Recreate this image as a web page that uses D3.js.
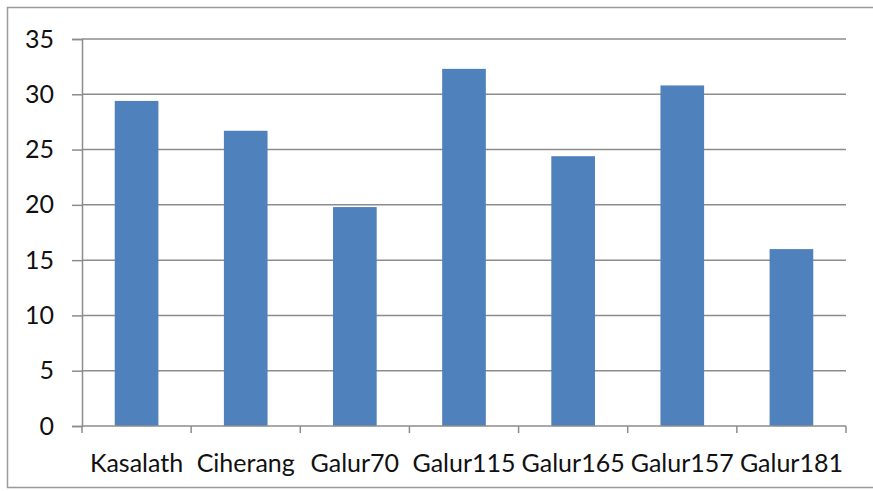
<!DOCTYPE html>
<html><head><meta charset="utf-8">
<script src="https://cdn.jsdelivr.net/npm/d3@7"></script>
<style>html,body{margin:0;padding:0;background:#fff;} svg{display:block;}</style>
</head><body>
<script>
const categories = ["Kasalath","Ciherang","Galur70","Galur115","Galur165","Galur157","Galur181"];
const values = [29.4, 26.7, 19.8, 32.3, 24.4, 30.8, 16.0];
const yTicks = [0,5,10,15,20,25,30,35];

(function(){
const W = 873, H = 491;
const svg = d3.select("body").append("svg").attr("width", W).attr("height", H);
svg.append("rect").attr("x",7.5).attr("y",7.5).attr("width",W).attr("height",480)
  .attr("fill","#fff").attr("stroke","#9a9a9a").attr("stroke-width",1.5);

const pLeft = 82, pRight = 846, pTop = 39, pBottom = 426;
const x = d3.scaleBand().domain(categories).range([pLeft, pRight]).paddingInner(0.6).paddingOuter(0.3);
const xb = d3.scaleBand().domain(categories).range([pLeft, pRight]);
const y = d3.scaleLinear().domain([0,35]).range([pBottom, pTop]);

svg.append("g").selectAll("line").data(yTicks.filter(d=>d>0)).join("line")
  .attr("x1",pLeft).attr("x2",pRight).attr("y1",d=>y(d)).attr("y2",d=>y(d))
  .attr("stroke","#8c8c8c").attr("stroke-width",1.5);

svg.append("g").selectAll("rect").data(values).join("rect")
  .attr("x",(d,i)=>x(categories[i])).attr("width",x.bandwidth())
  .attr("y",d=>y(d)).attr("height",d=>y(0)-y(d)).attr("fill","#4f81bd");

const yAxis = d3.axisLeft(y).tickValues(yTicks).tickSize(10).tickPadding(18);
const gy = svg.append("g").attr("transform",`translate(${pLeft},0)`).call(yAxis);
gy.select(".domain").attr("stroke","#8c8c8c").attr("stroke-width",1.5);
gy.selectAll(".tick line").attr("stroke","#8c8c8c").attr("stroke-width",1.5);
gy.selectAll("text").attr("font-family","Lato, sans-serif").attr("font-size",25).attr("fill","#111");

const gx = svg.append("g").attr("transform",`translate(0,${pBottom})`);
gx.append("line").attr("x1",pLeft).attr("x2",pRight).attr("stroke","#8c8c8c").attr("stroke-width",1.5);
const bounds = categories.map(c=>xb(c)).concat([pRight]);
gx.selectAll("line.tk").data(bounds).join("line").attr("class","tk")
  .attr("x1",d=>d).attr("x2",d=>d).attr("y1",0).attr("y2",7)
  .attr("stroke","#8c8c8c").attr("stroke-width",1.5);
gx.selectAll("text").data(categories).join("text")
  .attr("x",d=>xb(d)+xb.bandwidth()/2).attr("y",46)
  .attr("text-anchor","middle").attr("font-family","Lato, sans-serif").attr("font-size",25)
  .attr("fill","#111").text(d=>d);
})();
</script>
</body></html>
